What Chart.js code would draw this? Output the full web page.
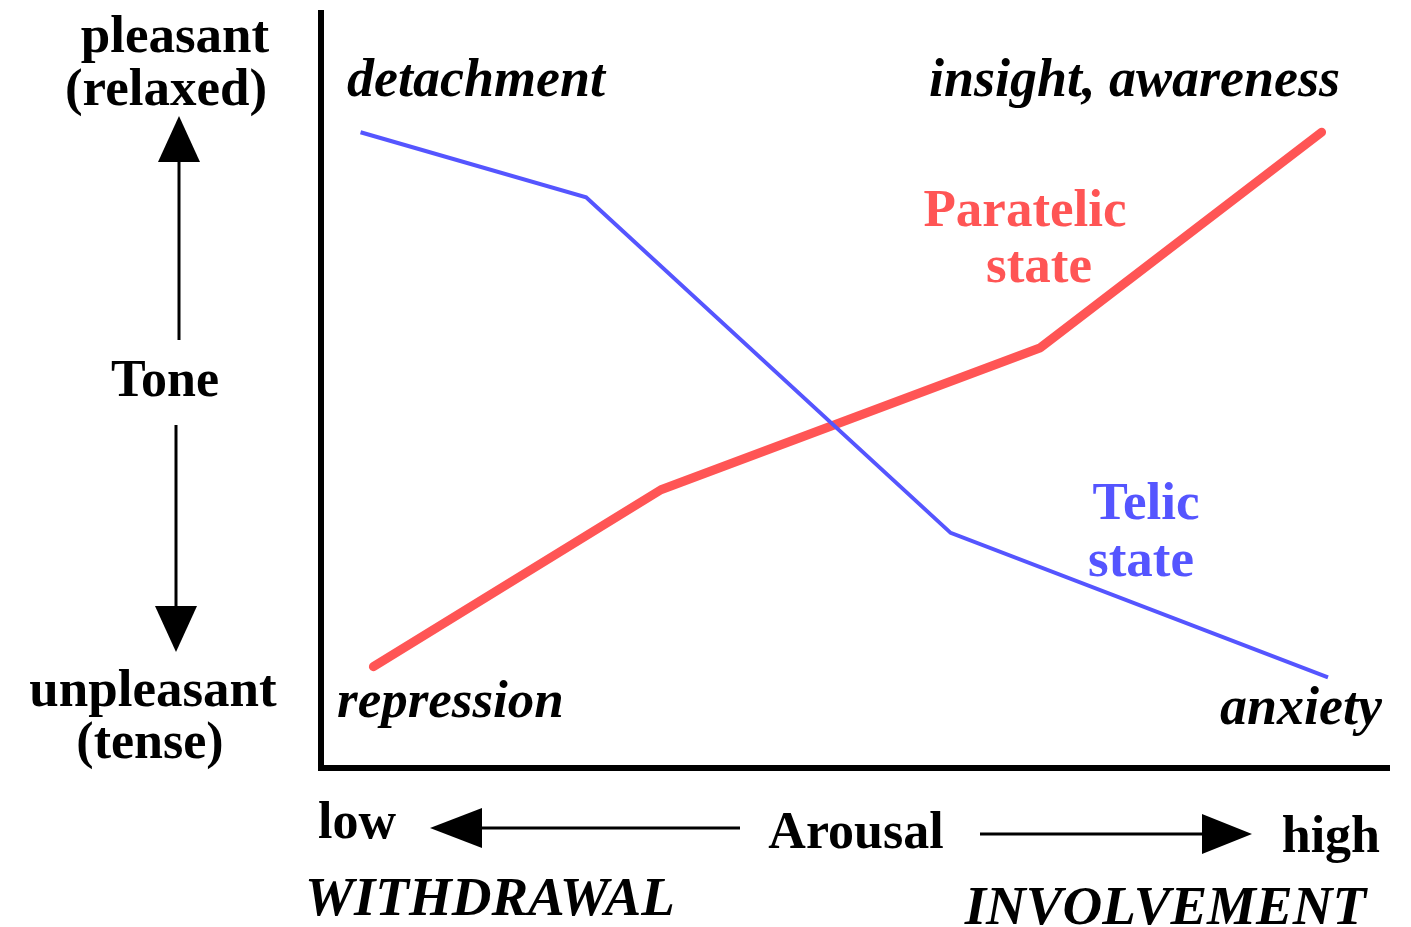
<!DOCTYPE html>
<html>
<head>
<meta charset="utf-8">
<script src="https://cdn.jsdelivr.net/npm/chart.js@4.4.1/dist/chart.umd.min.js"></script>
<style>
  html, body { margin: 0; padding: 0; background: #ffffff; }
  #wrap { width: 1411px; height: 927px; position: relative; }
</style>
</head>
<body>
<div id="wrap"><canvas id="c" width="1411" height="927"></canvas></div>
<script>
// Arousal (x, 0-100) vs Tone (y, 0-100)
const telicX = [3.7, 24.8, 58.9, 94.2];
const telicY = [84.1, 75.5, 31.1, 12.0];
const paratelicX = [4.9, 31.8, 67.3, 93.6];
const paratelicY = [13.4, 36.8, 55.6, 84.1];
const seriesNames = ['Telic state', 'Paratelic state'];

const BLUE = '#5555ff';
const RED = '#ff5555';
const SERIF = '"Liberation Serif", "DejaVu Serif", serif';

function pts(xs, ys) { return xs.map((x, i) => ({ x: x, y: ys[i] })); }

function arrowHead(ctx, tipX, tipY, dir, len, half) {
  ctx.beginPath();
  if (dir === 'up') {
    ctx.moveTo(tipX, tipY); ctx.lineTo(tipX - half, tipY + len); ctx.lineTo(tipX + half, tipY + len);
  } else if (dir === 'down') {
    ctx.moveTo(tipX, tipY); ctx.lineTo(tipX - half, tipY - len); ctx.lineTo(tipX + half, tipY - len);
  } else if (dir === 'left') {
    ctx.moveTo(tipX, tipY); ctx.lineTo(tipX + len, tipY - half); ctx.lineTo(tipX + len, tipY + half);
  } else {
    ctx.moveTo(tipX, tipY); ctx.lineTo(tipX - len, tipY - half); ctx.lineTo(tipX - len, tipY + half);
  }
  ctx.closePath();
  ctx.fill();
}

const decor = {
  id: 'decor',
  afterDatasetsDraw(chart) {
    const ctx = chart.ctx;
    const a = chart.chartArea;
    ctx.save();
    // axes
    ctx.strokeStyle = '#000';
    ctx.lineWidth = 6;
    ctx.lineCap = 'butt';
    ctx.beginPath();
    ctx.moveTo(a.left, a.top - 2);
    ctx.lineTo(a.left, a.bottom);
    ctx.lineTo(a.right, a.bottom);
    ctx.stroke();

    // vertical tone arrows
    ctx.fillStyle = '#000';
    ctx.lineWidth = 3;
    ctx.beginPath(); ctx.moveTo(179, 158); ctx.lineTo(179, 340); ctx.stroke();
    arrowHead(ctx, 179, 116, 'up', 46, 21);
    ctx.beginPath(); ctx.moveTo(176, 425); ctx.lineTo(176, 610); ctx.stroke();
    arrowHead(ctx, 176, 652, 'down', 46, 21);

    // horizontal arousal arrows
    ctx.beginPath(); ctx.moveTo(475, 828); ctx.lineTo(740, 828); ctx.stroke();
    arrowHead(ctx, 430, 828, 'left', 52, 20);
    ctx.beginPath(); ctx.moveTo(980, 834); ctx.lineTo(1210, 834); ctx.stroke();
    arrowHead(ctx, 1252, 834, 'right', 50, 20);

    function txt(s, x, y, opts) {
      ctx.font = (opts.italic ? 'italic ' : '') + 'bold ' + (opts.size || 52) + 'px ' + SERIF;
      ctx.fillStyle = opts.color || '#000';
      ctx.textAlign = opts.align || 'center';
      ctx.textBaseline = 'alphabetic';
      ctx.fillText(s, x, y);
    }
    // left side labels
    txt('pleasant', 175, 52, { size: 53 });
    txt('(relaxed)', 166, 105, { size: 53 });
    txt('Tone', 165, 396, {});
    txt('unpleasant', 153, 706, { size: 53 });
    txt('(tense)', 150, 758, {});
    // in-plot labels
    txt('detachment', 347, 96, { italic: true, align: 'left', size: 54 });
    txt('insight, awareness', 1340, 96, { italic: true, align: 'right', size: 54 });
    txt('repression', 337, 717, { italic: true, align: 'left', size: 53 });
    txt('anxiety', 1382, 724, { italic: true, align: 'right', size: 54 });
    txt('Paratelic', 1025, 226, { color: RED, size: 53 });
    txt('state', 1039, 282, { color: RED, size: 53 });
    txt('Telic', 1146, 519, { color: BLUE, size: 53 });
    txt('state', 1141, 576, { color: BLUE, size: 53 });
    // bottom labels
    txt('low', 318, 838, { align: 'left' });
    txt('Arousal', 856, 848, {});
    txt('high', 1380, 852, { align: 'right' });
    txt('WITHDRAWAL', 305, 915, { italic: true, align: 'left', size: 55 });
    txt('INVOLVEMENT', 1366, 924, { italic: true, align: 'right', size: 55 });
    ctx.restore();
  }
};

new Chart(document.getElementById('c'), {
  type: 'line',
  data: {
    datasets: [
      {
        label: seriesNames[0],
        data: pts(telicX, telicY),
        borderColor: BLUE,
        borderWidth: 4,
        pointRadius: 0,
        tension: 0,
        fill: false
      },
      {
        label: seriesNames[1],
        data: pts(paratelicX, paratelicY),
        borderColor: RED,
        borderWidth: 9,
        borderCapStyle: 'round',
        borderJoinStyle: 'round',
        pointRadius: 0,
        tension: 0,
        fill: false
      }
    ]
  },
  options: {
    responsive: false,
    animation: false,
    layout: { padding: { left: 321, right: 21, top: 12, bottom: 159 } },
    plugins: { legend: { display: false }, tooltip: { enabled: false } },
    scales: {
      x: { type: 'linear', min: 0, max: 100, display: false },
      y: { type: 'linear', min: 0, max: 100, display: false }
    }
  },
  plugins: [decor]
});
</script>
</body>
</html>
